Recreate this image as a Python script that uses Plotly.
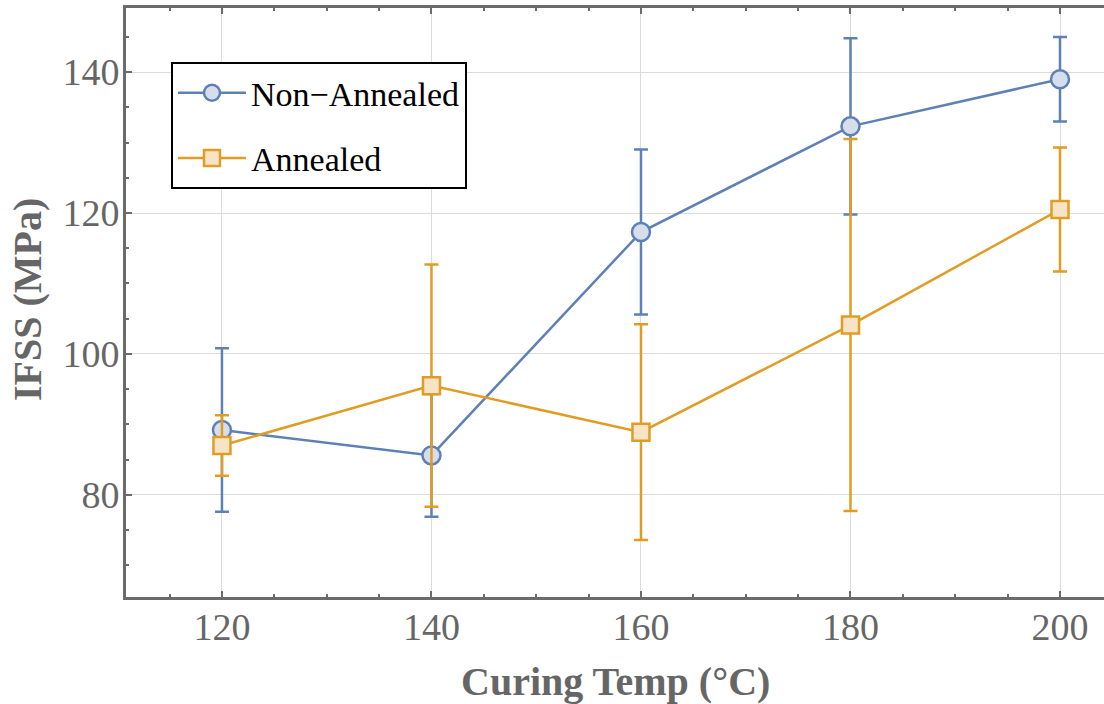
import plotly.graph_objects as go

temps = [120, 140, 160, 180, 200]
non_annealed = [89.2, 85.6, 117.3, 132.3, 139.0]
non_annealed_err = [11.6, 8.7, 11.7, 12.5, 6.0]
annealed = [87.0, 95.5, 88.9, 104.1, 120.5]
annealed_err = [4.3, 17.2, 15.3, 26.4, 8.8]

BLUE = "#5E81B5"
BLUE_FILL = "#D6DDEB"
ORANGE = "#E19C24"
ORANGE_FILL = "#F7E4C6"
AXIS = "#6B6B6B"
GRID = "#DCDCDC"
SERIF = "Liberation Serif, Times New Roman, serif"

W, H = 1104, 704
L, R, T, B = 126, 0, 8, 107

fig = go.Figure()
fig.add_trace(go.Scatter(
    x=temps, y=non_annealed, name="Non\u2212Annealed", mode="lines+markers",
    line=dict(color=BLUE, width=2.5),
    marker=dict(symbol="circle", size=18, color=BLUE_FILL, line=dict(color=BLUE, width=2.5)),
    error_y=dict(type="data", array=non_annealed_err, visible=True, color=BLUE, thickness=2.5, width=7),
    legendgroup="a",
))
fig.add_trace(go.Scatter(
    x=temps, y=annealed, name="Annealed", mode="lines+markers",
    line=dict(color=ORANGE, width=2.5),
    marker=dict(symbol="square", size=17, color=ORANGE_FILL, line=dict(color=ORANGE, width=2.5)),
    error_y=dict(type="data", array=annealed_err, visible=True, color=ORANGE, thickness=2.5, width=7),
    legendgroup="b",
))

axis_common = dict(
    showline=True, linecolor=AXIS, linewidth=3,
    ticks="inside", ticklen=6, tickwidth=2, tickcolor=AXIS,
    showgrid=True, gridcolor=GRID, gridwidth=1,
    zeroline=False,
    tickfont=dict(family=SERIF, size=38, color="#666666"),
    minor=dict(dtick=5, ticks="inside", ticklen=3, tickwidth=2, tickcolor=AXIS, showgrid=False),
)

fig.update_layout(
    width=W, height=H,
    margin=dict(l=L, r=R, t=T, b=B),
    paper_bgcolor="white", plot_bgcolor="white",
    xaxis=dict(range=[110.84, 204.2], tick0=120, dtick=20, mirror="ticks",
               ticklabelstandoff=-6, **axis_common),
    yaxis=dict(range=[65.5, 149.1], tick0=80, dtick=20, mirror=False,
               ticklabelstandoff=-4, **axis_common),
    showlegend=True,
    legend=dict(
        x=0.046, y=0.908, xanchor="left", yanchor="top",
        bgcolor="white", bordercolor="black", borderwidth=2,
        font=dict(family=SERIF, size=34, color="black"),
        tracegroupgap=18, itemwidth=68,
    ),
    annotations=[
        dict(text="<b>Curing Temp (°C)</b>", xref="paper", yref="paper",
             x=(615 - L) / (W - L - R), y=-(681 - (H - B)) / (H - T - B),
             xanchor="center", yanchor="middle", showarrow=False,
             font=dict(family=SERIF, size=40, color="#666666")),
        dict(text="<b>IFSS (MPa)</b>", xref="paper", yref="paper",
             x=-(L - 27) / (W - L - R), y=((H - B) - 300) / (H - T - B),
             xanchor="center", yanchor="middle", textangle=-90, showarrow=False,
             font=dict(family=SERIF, size=40, color="#666666")),
    ],
)

fig.write_html("out.html")
